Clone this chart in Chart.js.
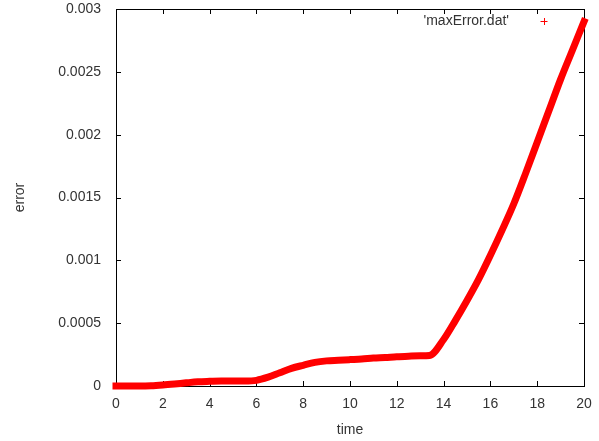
<!DOCTYPE html>
<html>
<head>
<meta charset="utf-8">
<script src="https://cdn.jsdelivr.net/npm/chart.js@4/dist/chart.umd.min.js"></script>
<style>
  body { margin: 0; background: #fff; }
  #wrap { width: 599px; height: 441px; }
</style>
</head>
<body>
<div id="wrap"><canvas id="chart"></canvas></div>
<script>
// values
const times = [0, 0.5, 1, 1.5, 2, 2.5, 3, 3.5, 4, 4.5, 5, 5.5, 6, 6.5, 7, 7.5, 8, 8.5, 9, 9.5,
  10, 10.5, 11, 11.5, 12, 12.5, 13, 13.4, 14, 14.5, 15, 15.5, 16, 16.5, 17, 17.5, 18, 18.5, 19, 19.5, 20];
const maxErrors = [0, 0, 0, 0.000002, 0.000008, 0.000016, 0.000025, 0.000033, 0.000037, 0.00004,
  0.00004, 0.00004, 0.000045, 0.00007, 0.000105, 0.00014, 0.000165, 0.000188, 0.0002, 0.000205,
  0.00021, 0.000215, 0.000222, 0.000227, 0.000233, 0.000237, 0.00024, 0.000243, 0.00037, 0.00052,
  0.00068, 0.00085, 0.00104, 0.00124, 0.00145, 0.00169, 0.00194, 0.00219, 0.00244, 0.00267, 0.0029];
const xTickLabels = ['0', '2', '4', '6', '8', '10', '12', '14', '16', '18', '20'];
const yTickLabels = ['0', '0.0005', '0.001', '0.0015', '0.002', '0.0025', '0.003'];

const textColor = '#333';
const font = { family: "'Liberation Sans', Arial, sans-serif", size: 14 };

// gnuplot style frame with inward ticks on all four sides
const framePlugin = {
  id: 'frame',
  beforeDatasetsDraw(chart) {
    const { ctx, chartArea: a, scales } = chart;
    const len = 5;
    ctx.save();
    ctx.strokeStyle = '#000';
    ctx.lineWidth = 1;
    ctx.strokeRect(Math.round(a.left) + 0.5, Math.round(a.top) + 0.5,
      Math.round(a.right - a.left), Math.round(a.bottom - a.top));
    ctx.beginPath();
    scales.x.ticks.forEach(t => {
      const px = Math.round(scales.x.getPixelForValue(t.value)) + 0.5;
      ctx.moveTo(px, a.bottom); ctx.lineTo(px, a.bottom - len);
      ctx.moveTo(px, a.top); ctx.lineTo(px, a.top + len);
    });
    scales.y.ticks.forEach(t => {
      const py = Math.round(scales.y.getPixelForValue(t.value)) + 0.5;
      ctx.moveTo(a.left, py); ctx.lineTo(a.left + len, py);
      ctx.moveTo(a.right, py); ctx.lineTo(a.right - len, py);
    });
    ctx.stroke();
    ctx.restore();
  }
};

// key inside the top right corner: title then a '+' sample
const keyPlugin = {
  id: 'key',
  afterDatasetsDraw(chart) {
    const { ctx, chartArea: a } = chart;
    const ds = chart.data.datasets[0];
    const y = a.top + 12;
    ctx.save();
    ctx.font = `${font.size}px ${font.family}`;
    ctx.fillStyle = textColor;
    ctx.textAlign = 'right';
    ctx.textBaseline = 'middle';
    ctx.fillText(ds.label, a.right - 75, y);
    const cx = a.right - 40;
    ctx.strokeStyle = ds.borderColor;
    ctx.lineWidth = 1;
    ctx.beginPath();
    ctx.moveTo(cx - 3.5, y + 0.5); ctx.lineTo(cx + 3.5, y + 0.5);
    ctx.moveTo(cx + 0.5, y - 3); ctx.lineTo(cx + 0.5, y + 4);
    ctx.stroke();
    ctx.restore();
  }
};

new Chart(document.getElementById('chart'), {
  type: 'line',
  data: {
    datasets: [{
      label: "'maxError.dat'",
      data: times.map((t, i) => ({ x: t, y: maxErrors[i] })),
      borderColor: '#ff0000',
      borderWidth: 7,
      borderCapStyle: 'square',
      borderJoinStyle: 'round',
      pointRadius: 0,
      cubicInterpolationMode: 'monotone',
      clip: false,
    }],
  },
  options: {
    responsive: true,
    maintainAspectRatio: false,
    animation: false,
    layout: { padding: { left: 0, right: 15, top: 9, bottom: 0 } },
    plugins: {
      legend: { display: false },
      tooltip: { enabled: false },
    },
    scales: {
      x: {
        type: 'linear',
        min: 0,
        max: 20,
        grid: { display: false },
        border: { display: false },
        ticks: {
          stepSize: 2,
          padding: 2,
          color: textColor,
          font: font,
          maxRotation: 0,
          callback: (v, i) => xTickLabels[i],
        },
        title: { display: true, text: 'time', color: textColor, font: font, padding: { top: 0, bottom: 2 } },
        afterFit: (scale) => {
          scale.height = 55;
          scale.paddingLeft = 0;
          scale.paddingRight = 0;
        },
      },
      y: {
        min: 0,
        max: 0.003,
        grid: { display: false },
        border: { display: false },
        ticks: {
          stepSize: 0.0005,
          padding: 7,
          color: textColor,
          font: font,
          callback: (v, i) => yTickLabels[i],
        },
        title: { display: true, text: 'error', color: textColor, font: font, padding: { top: 12, bottom: 0 } },
        afterFit: (scale) => {
          scale.width = 116;
          scale.paddingTop = 0;
          scale.paddingBottom = 0;
        },
      },
    },
  },
  plugins: [framePlugin, keyPlugin],
});
</script>
</body>
</html>
